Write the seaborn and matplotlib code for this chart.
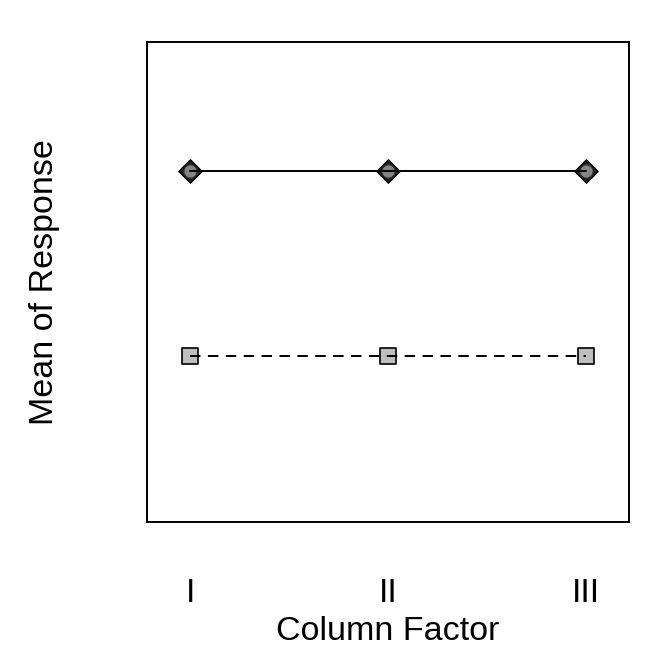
import numpy as np
import pandas as pd
import matplotlib
matplotlib.use('Agg')
import matplotlib.pyplot as plt
import seaborn as sns

# data (y axis has no scale, so values are relative)
levels = ['I', 'II', 'III']
pos = [1, 2, 3]
mean_a = [2.0, 2.0, 2.0]   # solid line, diamond/circle
mean_b = [1.0, 1.0, 1.0]   # dashed line, square

sns.set_style('white')
plt.rcParams['font.family'] = ['Liberation Sans', 'DejaVu Sans']
plt.rcParams['text.color'] = 'black'
plt.rcParams['axes.labelcolor'] = 'black'
plt.rcParams['xtick.color'] = 'black'

fig = plt.figure(figsize=(6.72, 6.72), dpi=100)
ax = fig.add_axes([147/672, 1-522/672, 482/672, 480/672])

df = pd.DataFrame({'x': pos * 2, 'y': mean_a + mean_b,
                   'grp': ['a'] * 3 + ['b'] * 3})

a = df[df.grp == 'a']
b = df[df.grp == 'b']
# markers first, then lines on top (as in the original)
sns.scatterplot(x=a.x, y=a.y, marker='D', s=140, color='#222222',
                edgecolor='black', linewidth=1, ax=ax, zorder=2)
sns.scatterplot(x=a.x, y=a.y, marker='o', s=90, color='#858585',
                edgecolor='#333333', linewidth=0.8, ax=ax, zorder=3)
sns.scatterplot(x=b.x, y=b.y, marker='s', s=125, color='#bebebe',
                edgecolor='black', linewidth=1.2, ax=ax, zorder=2)
sns.lineplot(x=a.x, y=a.y, color='black', linewidth=1.4, ax=ax, zorder=4)
sns.lineplot(x=b.x, y=b.y, color='black', linewidth=1.4, ax=ax, zorder=4,
             linestyle=(0, (5.4, 3.8)))

ax.set_xlim(0.78, 3.22)
ax.set_ylim(0.103, 2.70)
ax.set_xticks(pos)
ax.set_xticklabels(levels, fontsize=24.5)
ax.set_yticks([])
ax.tick_params(axis='x', length=0, pad=40)
ax.set_xlabel('Column Factor', fontsize=24.5, va='center')
ax.xaxis.set_label_coords(0.5, (522 - 632) / 480)
ax.set_ylabel('Mean of Response', fontsize=24.5, va='center')
ax.yaxis.set_label_coords((45 - 147) / 482, 0.5)
for s in ax.spines.values():
    s.set_visible(True)
    s.set_color('black')
    s.set_linewidth(1.4)

fig.savefig('out.png', dpi=100)
